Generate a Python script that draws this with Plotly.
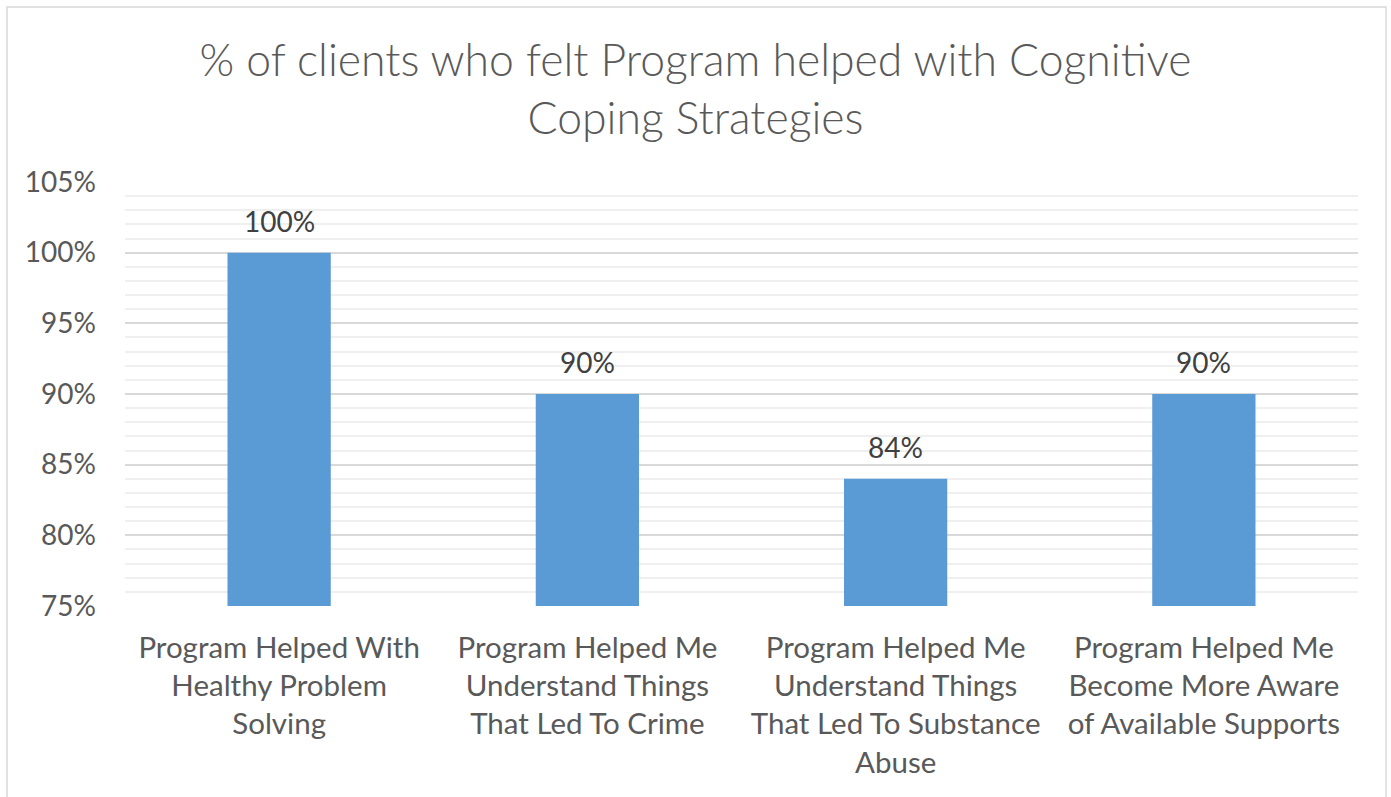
import plotly.graph_objects as go

categories = [
    "Program Helped With<br>Healthy Problem<br>Solving",
    "Program Helped Me<br>Understand Things<br>That Led To Crime",
    "Program Helped Me<br>Understand Things<br>That Led To Substance<br>Abuse",
    "Program Helped Me<br>Become More Aware<br>of Available Supports",
]
values = [1.00, 0.90, 0.84, 0.90]
value_labels = ["100%", "90%", "84%", "90%"]
title_text = "% of clients who felt Program helped with Cognitive<br>Coping Strategies"

W, H = 1391, 797
ml, mr, mt, mb = 125, 33, 182, 191
pw, ph = W - ml - mr, H - mt - mb

def px_x(x):
    return (x - ml) / pw

def px_y(y):
    return (H - mb - y) / ph

fig = go.Figure()
fig.add_trace(go.Bar(
    x=categories, y=values,
    marker=dict(color="#5B9BD5", line=dict(width=0)),
))

for c, v, t in zip(categories, values, value_labels):
    fig.add_annotation(x=c, y=v, text=t, showarrow=False, yanchor="bottom",
                       yshift=13, font=dict(family="Lato", size=28, color="#404040"))

fig.update_layout(
    width=W, height=H,
    margin=dict(l=ml, r=mr, t=mt, b=mb),
    paper_bgcolor="white", plot_bgcolor="white",
    bargap=0.665,
    showlegend=False,
    title=dict(text=title_text, x=0.5, xanchor="center", y=1 - 76 / H, yanchor="middle",
               yref="container",
               font=dict(family="Lato", size=44.5, color="#595959", weight=300)),
    font=dict(family="Lato", color="#595959"),
    xaxis=dict(tickfont=dict(size=29.5, color="#595959"), showline=False,
               ticks="", ticklabelstandoff=21),
    yaxis=dict(range=[0.75, 1.05], dtick=0.05, tickformat=".0%",
               tickfont=dict(size=28, color="#595959"),
               showgrid=True, gridcolor="#D9D9D9", gridwidth=1.5,
               zeroline=False, showline=False, ticks="",
               ticklabelstandoff=28,
               minor=dict(dtick=0.01, showgrid=True, gridcolor="#EFEFEF", gridwidth=1.5)),
    shapes=[dict(type="rect", xref="paper", yref="paper",
                 x0=px_x(7), x1=px_x(1386), y0=px_y(815), y1=px_y(7),
                 line=dict(color="#D9D9D9", width=1.5), layer="below")],
)

fig.write_html("out.html")
